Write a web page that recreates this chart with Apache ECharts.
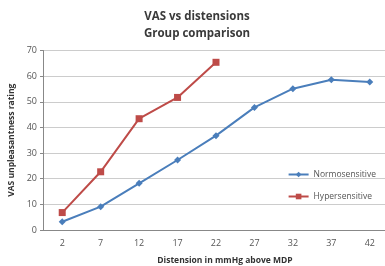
<!DOCTYPE html>
<html><head><meta charset="utf-8">
<script src="https://cdn.jsdelivr.net/npm/echarts@6/dist/echarts.min.js"></script>
<style>html,body{margin:0;padding:0;background:#fff}#c{width:385px;height:266px}</style>
</head><body><div id="c"></div>
<script>
var categories = ['2','7','12','17','22','27','32','37','42'];
var normosensitive = [3.2, 9.1, 18.2, 27.3, 36.8, 47.8, 55.1, 58.6, 57.7];
var hypersensitive = [6.8, 22.7, 43.4, 51.7, 65.4];
var chart = echarts.init(document.getElementById('c'));
var font = '"Open Sans", "Liberation Sans", sans-serif';
chart.setOption({
  animation: false,
  title: {
    text: 'VAS vs distensions\nGroup comparison',
    left: 192, top: 3, textAlign: 'center',
    textStyle: {fontSize: 11.5, fontWeight: 'bold', color: '#3a3a3a', lineHeight: 17, fontFamily: font}
  },
  legend: {
    orient: 'vertical', right: 4, top: 165, itemGap: 13, itemWidth: 20, itemHeight: 7,
    textStyle: {fontSize: 8.5, color: '#555', fontFamily: font},
    data: ['Normosensitive', 'Hypersensitive']
  },
  grid: {left: 43, right: -4, top: 50.5, bottom: 36, containLabel: false, outerBoundsMode: 'none'},
  xAxis: {
    type: 'category', data: categories, boundaryGap: true,
    name: 'Distension in mmHg above MDP', nameLocation: 'middle', nameGap: 26,
    nameTextStyle: {fontSize: 8.5, fontWeight: 'bold', color: '#333', fontFamily: font, padding: [0, 0, 0, 18]},
    axisLine: {lineStyle: {color: '#888'}},
    axisTick: {length: 3, lineStyle: {color: '#888'}},
    axisLabel: {fontSize: 9, color: '#555', margin: 9, fontFamily: font}
  },
  yAxis: {
    type: 'value', min: 0, max: 70, interval: 10,
    name: 'VAS unpleasantness rating', nameLocation: 'middle', nameGap: 25,
    nameTextStyle: {fontSize: 8.5, fontWeight: 'bold', color: '#333', fontFamily: font},
    axisLine: {show: true, lineStyle: {color: '#888'}},
    axisTick: {show: true, length: 3, lineStyle: {color: '#888'}},
    axisLabel: {fontSize: 9, color: '#555', margin: 6, fontFamily: font},
    splitLine: {lineStyle: {color: '#cccccc'}}
  },
  series: [
    {name: 'Normosensitive', type: 'line', data: normosensitive, symbol: 'diamond', symbolSize: 7,
     lineStyle: {color: '#4a7ebb', width: 2}, itemStyle: {color: '#4a7ebb'}},
    {name: 'Hypersensitive', type: 'line', data: hypersensitive, symbol: 'rect', symbolSize: 7,
     lineStyle: {color: '#be4b48', width: 2}, itemStyle: {color: '#be4b48'}}
  ]
});
</script></body></html>
